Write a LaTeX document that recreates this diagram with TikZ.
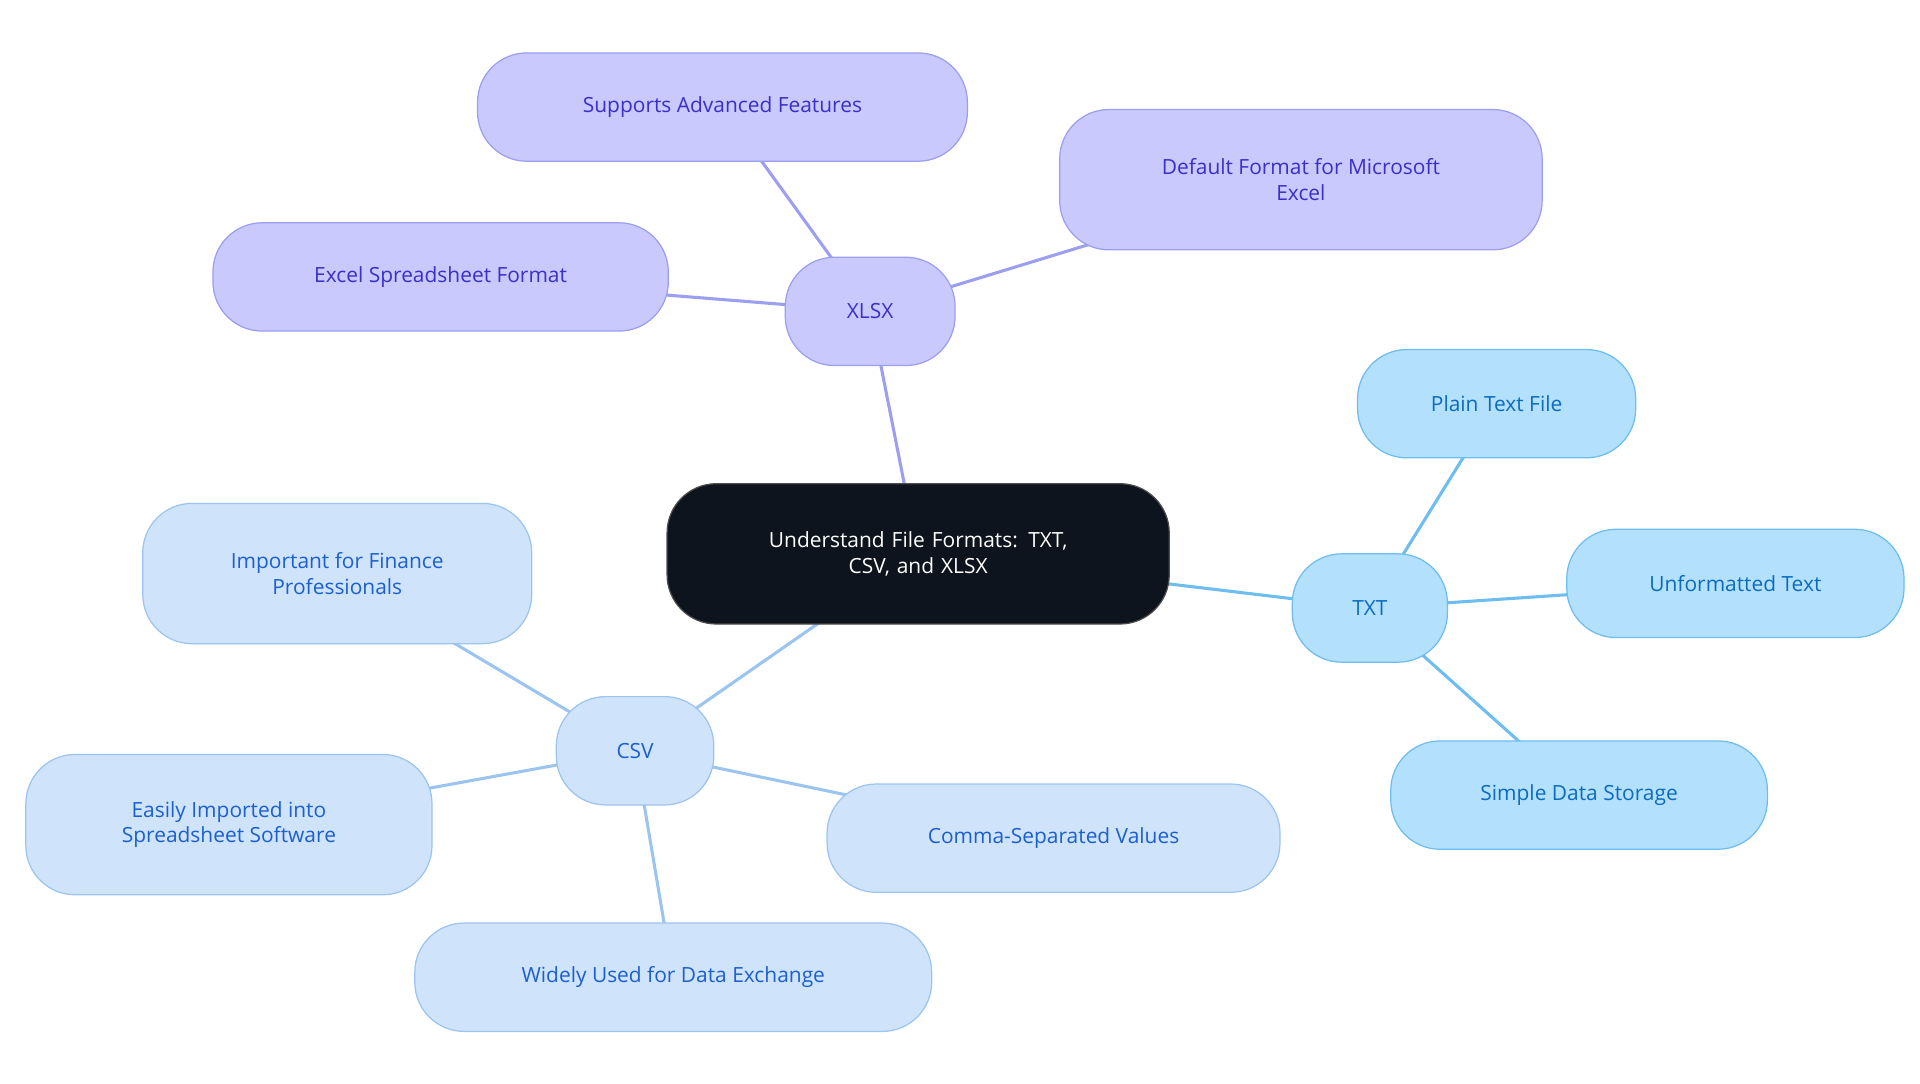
\documentclass[tikz,border=0pt]{standalone}
\usepackage{fontspec}
\setmainfont{Open Sans}
\definecolor{rootFill}{HTML}{0D141E}
\definecolor{xlsxFill}{HTML}{C9C9FD}
\definecolor{xlsxLine}{HTML}{9C9EF0}
\definecolor{xlsxText}{HTML}{3B2FC9}
\definecolor{txtFill}{HTML}{B3E0FD}
\definecolor{txtLine}{HTML}{6DBDF0}
\definecolor{txtText}{HTML}{0B6BBF}
\definecolor{csvFill}{HTML}{CFE3FB}
\definecolor{csvLine}{HTML}{9CC4F0}
\definecolor{csvText}{HTML}{1C5FCF}
\tikzset{
    BaseBox/.style={rectangle, rounded corners=40pt, line width=1pt, align=center,
        font=\fontsize{17}{21}\selectfont, inner sep=0pt},
    RootBox/.style={BaseBox, fill=rootFill, draw=black!70, text=white},
    XlsxBox/.style={BaseBox, fill=xlsxFill, draw=xlsxLine, text=xlsxText},
    TxtBox/.style={BaseBox, fill=txtFill, draw=txtLine, text=txtText},
    CsvBox/.style={BaseBox, fill=csvFill, draw=csvLine, text=csvText},
    XlsxLink/.style={draw=xlsxLine, line width=2.5pt},
    TxtLink/.style={draw=txtLine, line width=2.5pt},
    CsvLink/.style={draw=csvLine, line width=2.5pt}
}
\begin{document}
\begin{tikzpicture}[x=1pt, y=-1pt]
    \useasboundingbox (0,0) rectangle (1560,880);

    % links first, boxes on top
    \path[XlsxLink] (746,450) -- (707,253);
    \path[XlsxLink] (707,253) -- (587,87);
    \path[XlsxLink] (707,253) -- (1057,146);
    \path[XlsxLink] (707,253) -- (358,225);
    \path[TxtLink] (746,450) -- (1113,494);
    \path[TxtLink] (1113,494) -- (1216,328);
    \path[TxtLink] (1113,494) -- (1410,474);
    \path[TxtLink] (1113,494) -- (1283,646);
    \path[CsvLink] (746,450) -- (516,610);
    \path[CsvLink] (516,610) -- (274,466);
    \path[CsvLink] (516,610) -- (186,670);
    \path[CsvLink] (516,610) -- (856,681);
    \path[CsvLink] (516,610) -- (547,794);

    \node[RootBox, minimum width=408pt, minimum height=114pt, text width=340pt] (root) at (746,450) {Understand File Formats: TXT,\\ CSV, and XLSX};

    \node[XlsxBox, minimum width=138pt, minimum height=88pt] (xlsx) at (707,253) {XLSX};
    \node[XlsxBox, minimum width=398pt, minimum height=88pt] (xlsxAdv) at (587,87) {Supports Advanced Features};
    \node[XlsxBox, minimum width=392pt, minimum height=114pt] (xlsxDef) at (1057,146) {Default Format for Microsoft\\ Excel};
    \node[XlsxBox, minimum width=370pt, minimum height=88pt] (xlsxFmt) at (358,225) {Excel Spreadsheet Format};

    \node[TxtBox, minimum width=126pt, minimum height=88pt] (txt) at (1113,494) {TXT};
    \node[TxtBox, minimum width=226pt, minimum height=88pt] (txtPlain) at (1216,328) {Plain Text File};
    \node[TxtBox, minimum width=274pt, minimum height=88pt] (txtUnf) at (1410,474) {Unformatted Text};
    \node[TxtBox, minimum width=306pt, minimum height=88pt] (txtSimple) at (1283,646) {Simple Data Storage};

    \node[CsvBox, minimum width=128pt, minimum height=88pt] (csv) at (516,610) {CSV};
    \node[CsvBox, minimum width=316pt, minimum height=114pt] (csvFin) at (274,466) {Important for Finance\\ Professionals};
    \node[CsvBox, minimum width=330pt, minimum height=114pt] (csvImp) at (186,670) {Easily Imported into\\ Spreadsheet Software};
    \node[CsvBox, minimum width=368pt, minimum height=88pt] (csvComma) at (856,681) {Comma-Separated Values};
    \node[CsvBox, minimum width=420pt, minimum height=88pt] (csvWide) at (547,794) {Widely Used for Data Exchange};
\end{tikzpicture}
\end{document}
